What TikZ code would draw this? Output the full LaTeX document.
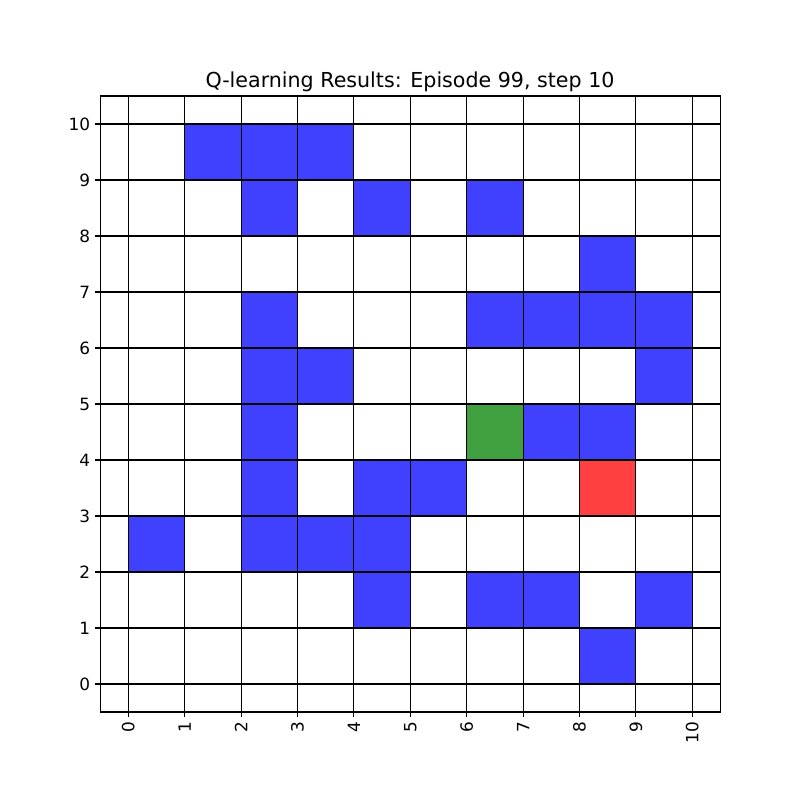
\documentclass[tikz,border=0pt]{standalone}
\usepackage{fontspec}
\setmainfont{DejaVu Sans}
\definecolor{cellblue}{RGB}{64,64,255}
\definecolor{cellgreen}{RGB}{64,160,64}
\definecolor{cellred}{RGB}{255,64,64}
\tikzset{
  gridline/.style={black, line width=1.1pt},
  spine/.style={black, line width=1.1pt},
  tickmark/.style={black, line width=1.1pt},
  ticklabel/.style={inner sep=0pt, font=\fontsize{16.9}{19}\selectfont},
  titlelabel/.style={inner sep=0pt, font=\fontsize{20.6}{24}\selectfont},
}
\begin{document}
\begin{tikzpicture}[x=1pt,y=1pt]
\useasboundingbox (0,0) rectangle (800,800);
\fill[white] (0,0) rectangle (800,800);
\node[titlelabel, anchor=base] (title) at (410,712.8) {Q-learning Results: Episode 99, step 10};
\begin{scope}[shift={(128.3pt,116pt)}, x=56.4pt, y=56pt]
  % cells
  \foreach \cx/\cy in {1/9,2/9,3/9, 2/8,4/8,6/8, 8/7, 2/6,6/6,7/6,8/6,9/6, 2/5,3/5,9/5, 2/4,7/4,8/4, 2/3,4/3,5/3, 0/2,2/2,3/2,4/2, 4/1,6/1,7/1,9/1, 8/0}
    \fill[cellblue] (\cx,\cy) rectangle ++(1,1);
  \fill[cellgreen] (6,4) rectangle ++(1,1);
  \fill[cellred] (8,3) rectangle ++(1,1);
  % grid
  \foreach \i in {0,...,10} {
    \draw[gridline] (\i,-0.5) -- (\i,10.5);
    \draw[gridline] (-0.5,\i) -- (10.5,\i);
  }
  % spines
  \draw[spine] (-0.5,-0.5) rectangle (10.5,10.5);
  % ticks and labels
  \foreach \i in {0,...,10} {
    \draw[tickmark] (\i,-0.5) -- ++(0,-4.9pt);
    \draw[tickmark] (-0.5,\i) -- ++(-4.9pt,0);
    \node[ticklabel, rotate=90, anchor=east] (xl\i) at ([yshift=-9.8pt]\i,-0.5) {\i};
    \node[ticklabel, anchor=base east] (yl\i) at ([xshift=-9.8pt,yshift=-6.6pt]-0.5,\i) {\i};
  }
\end{scope}
\end{tikzpicture}
\end{document}
